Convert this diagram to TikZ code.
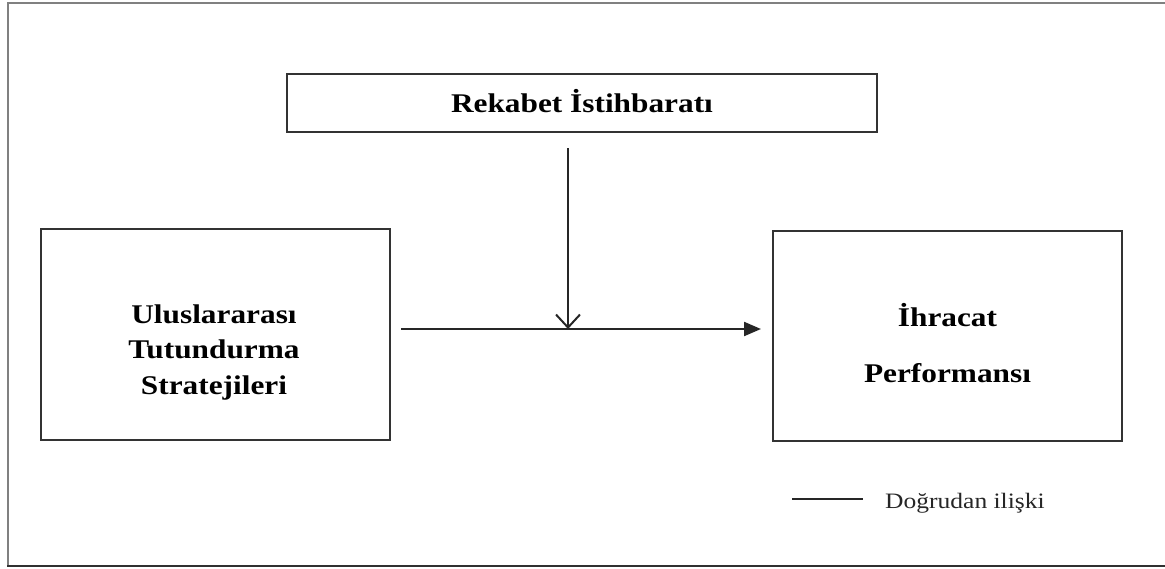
\documentclass[tikz,border=0pt]{standalone}
\usepackage{fontspec}
\setmainfont{Liberation Serif}[FakeStretch=1.16]
\usetikzlibrary{arrows.meta}
\definecolor{boxline}{HTML}{333333}
\definecolor{frametop}{HTML}{808080}
\definecolor{framebot}{HTML}{303030}
\tikzset{
  box/.style={draw=boxline, line width=2.2pt, fill=none, inner sep=0pt},
  label/.style={font=\bfseries\fontsize{27}{32}\selectfont, text=black, anchor=base, inner sep=0pt},
  legendtext/.style={font=\fontsize{22}{26}\selectfont, text=black!85, anchor=base west, inner sep=0pt},
  link/.style={draw=black!85, line width=2.2pt},
  mainarrow/.style={link, -{Triangle[length=17pt, width=14pt]}},
  modarrow/.style={link, -{Straight Barb[length=13pt, width=24pt, line width=2pt]}},
}
\begin{document}
\begin{tikzpicture}[x=1pt, y=-1pt]
\useasboundingbox (0,0) rectangle (1165,568);
\fill[white] (0,0) rectangle (1165,568);

% page frame (open on the right)
\draw[frametop, line width=1.5pt] (1165,3) -- (8,3) -- (8,566);
\draw[framebot, line width=2pt] (7.25,566) -- (1165,566);

% boxes
\node[box, minimum width=590pt, minimum height=58pt] (rek) at (582,103) {};
\node[box, minimum width=349pt, minimum height=211pt] (uts) at (215.5,334.5) {};
\node[box, minimum width=349pt, minimum height=210pt] (ihr) at (947.5,336) {};

% box texts
\node[label] (rekt) at (582,112) {Rekabet İstihbaratı};
\node[label] (uts1) at (214,323) {Uluslararası};
\node[label] (uts2) at (214,358.5) {Tutundurma};
\node[label] (uts3) at (214,394) {Stratejileri};
\node[label] (ihr1) at (947.5,326) {İhracat};
\node[label] (ihr2) at (947.5,382) {Performansı};

% connectors
\coordinate (hstart) at (401,329);
\coordinate (hend) at (761,329);
\coordinate (vstart) at (568,148);
\coordinate (vend) at (568,329);
\draw[mainarrow] (hstart) -- (hend);
\draw[modarrow] (vstart) -- (vend);

% legend
\coordinate (lga) at (792,499);
\coordinate (lgb) at (863,499);
\draw[link] (lga) -- (lgb);
\node[legendtext] (lgt) at (885,508) {Doğrudan ilişki};
\end{tikzpicture}
\end{document}
